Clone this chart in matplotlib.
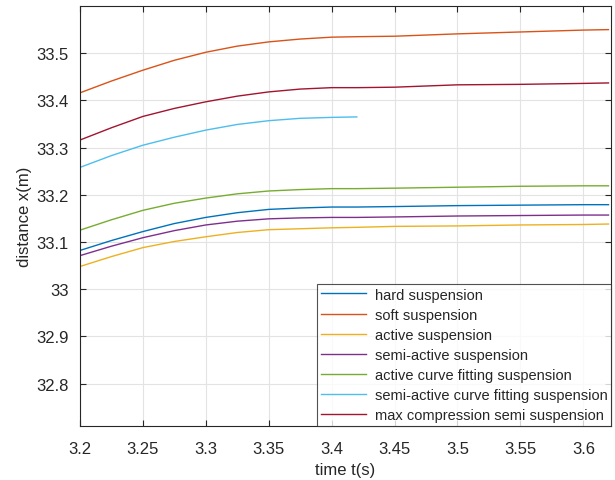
import matplotlib
matplotlib.use('Agg')
import matplotlib.pyplot as plt

plt.rcParams['font.family'] = ['Liberation Sans', 'DejaVu Sans']

# ── data ──────────────────────────────────────────────────
t = [3.2, 3.225, 3.25, 3.275, 3.3, 3.325, 3.35, 3.375, 3.4, 3.42,
     3.45, 3.5, 3.55, 3.6, 3.62]

hard = [33.082, 33.103, 33.122, 33.139, 33.152, 33.162, 33.169, 33.172,
        33.174, 33.174, 33.175, 33.177, 33.178, 33.179, 33.179]
soft = [33.416, 33.441, 33.464, 33.485, 33.502, 33.515, 33.524, 33.530,
        33.534, 33.535, 33.536, 33.541, 33.545, 33.549, 33.550]
active = [33.048, 33.069, 33.088, 33.101, 33.111, 33.120, 33.126, 33.128,
          33.130, 33.131, 33.133, 33.134, 33.136, 33.137, 33.138]
semi_active = [33.071, 33.091, 33.109, 33.124, 33.136, 33.144, 33.149, 33.151,
               33.152, 33.152, 33.153, 33.155, 33.156, 33.157, 33.157]
active_cf = [33.125, 33.147, 33.167, 33.182, 33.193, 33.202, 33.208, 33.211,
             33.213, 33.213, 33.214, 33.216, 33.218, 33.219, 33.219]
# this one stops at t = 3.42
semi_active_cf = [33.258, 33.283, 33.305, 33.322, 33.337, 33.349, 33.357,
                  33.362, 33.364, 33.365]
max_comp = [33.316, 33.342, 33.366, 33.383, 33.397, 33.409, 33.418, 33.424,
            33.427, 33.427, 33.428, 33.433, 33.434, 33.436, 33.437]

labels = ['hard suspension', 'soft suspension', 'active suspension',
          'semi-active suspension', 'active curve fitting suspension',
          'semi-active curve fitting suspension',
          'max compression semi suspension']
series = [hard, soft, active, semi_active, active_cf, semi_active_cf, max_comp]
colors = ['#0072BD', '#D95319', '#EDB120', '#7E2F8E', '#77AC30', '#4DBEEE', '#A2142F']

xticks = [3.2, 3.25, 3.3, 3.35, 3.4, 3.45, 3.5, 3.55, 3.6]
yticks = [32.8, 32.9, 33.0, 33.1, 33.2, 33.3, 33.4, 33.5]

# ── plot ──────────────────────────────────────────────────
fig = plt.figure(figsize=(6.15, 4.81), dpi=100)
ax = fig.add_axes([0.130, 0.1123, 0.8635, 0.8731])

for y, c, lab in zip(series, colors, labels):
    ax.plot(t[:len(y)], y, color=c, lw=1.0, label=lab)

ax.set_xlim(3.2, 3.622)
ax.set_ylim(32.71, 33.6)
ax.set_xticks(xticks)
ax.set_xticklabels(['3.2', '3.25', '3.3', '3.35', '3.4', '3.45', '3.5', '3.55', '3.6'])
ax.set_yticks(yticks)
ax.set_yticklabels(['32.8', '32.9', '33', '33.1', '33.2', '33.3', '33.4', '33.5'])

ax.grid(True, color='#e3e3e3', lw=0.8)
ax.set_axisbelow(True)
for s in ax.spines.values():
    s.set_color('#262626')
    s.set_linewidth(0.8)
ax.tick_params(direction='in', length=4, width=0.8, color='#262626',
               labelcolor='#262626', labelsize=12, top=True, right=True)
ax.tick_params(axis='x', pad=11)
ax.tick_params(axis='y', pad=8)

ax.set_xlabel('time t(s)', fontsize=12, color='#262626', labelpad=4)
ax.set_ylabel('distance x(m)', fontsize=12, color='#262626', labelpad=3)

leg = ax.legend(loc='lower right', fontsize=10.5, frameon=True, fancybox=False,
                edgecolor='#262626', borderaxespad=0.0, handlelength=3.1,
                handletextpad=0.6, labelspacing=0.42, borderpad=0.25)
leg.get_frame().set_linewidth(0.8)
for txt in leg.get_texts():
    txt.set_color('#262626')

plt.savefig('out.png', dpi=100)
